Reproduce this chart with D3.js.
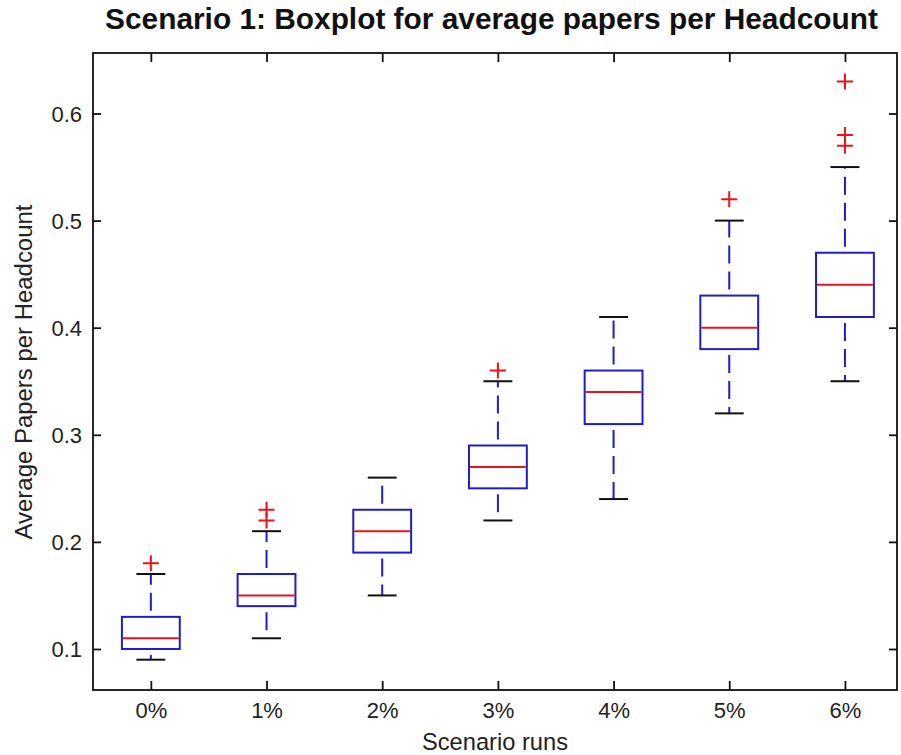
<!DOCTYPE html>
<html><head><meta charset="utf-8">
<script src="https://cdn.jsdelivr.net/npm/d3@7"></script>
<style>body{margin:0;background:#fff}svg{display:block}</style>
</head><body>
<svg id="c" width="901" height="755"></svg>
<script>
const categories = ["0%","1%","2%","3%","4%","5%","6%"];
const q1      = [0.10,0.14,0.19,0.25,0.31,0.38,0.41];
const medians = [0.11,0.15,0.21,0.27,0.34,0.40,0.44];
const q3      = [0.13,0.17,0.23,0.29,0.36,0.43,0.47];
const lowerW  = [0.09,0.11,0.15,0.22,0.24,0.32,0.35];
const upperW  = [0.17,0.21,0.26,0.35,0.41,0.50,0.55];
const outliers = [[0.18],[0.22,0.23],[],[0.36],[],[0.52],[0.57,0.58,0.63]];
const yTicks = [0.1,0.2,0.3,0.4,0.5,0.6];

const FONT = "'Liberation Sans',Arial,sans-serif";
const svg = d3.select("#c");
const L=93, R=897, T=53, B=690;
const x = d3.scaleLinear().domain([0.5,7.45]).range([L,R]);
const y = d3.scaleLinear().domain([0.0617,0.6565]).range([B,T]);
const unit = x(2)-x(1);
const blue="#1e1ec4", red="#e8141c";

const g = svg.append("g");
g.append("rect").attr("x",L).attr("y",T).attr("width",R-L).attr("height",B-T)
 .attr("fill","none").attr("stroke","#111").attr("stroke-width",1.8);

const xAxisB = d3.axisBottom(x).tickValues(d3.range(1,8)).tickFormat(d=>categories[d-1]).tickSizeInner(-9).tickSizeOuter(0).tickPadding(28);
const xAxisT = d3.axisTop(x).tickValues(d3.range(1,8)).tickFormat("").tickSizeInner(-9).tickSizeOuter(0);
const yAxisL = d3.axisLeft(y).tickValues(yTicks).tickFormat(d3.format(".1f")).tickSizeInner(-8).tickSizeOuter(0).tickPadding(11);
const yAxisR = d3.axisRight(y).tickValues(yTicks).tickFormat("").tickSizeInner(-8).tickSizeOuter(0);
function style(sel){
  sel.attr("font-size",null).attr("font-family",null);
  sel.select(".domain").remove();
  sel.selectAll(".tick line").attr("stroke","#111").attr("stroke-width",1.8);
  sel.selectAll(".tick text").attr("fill","#222").attr("font-family",FONT).attr("font-size",22);
}
g.append("g").attr("transform",`translate(0,${B})`).call(xAxisB).call(style)
  .selectAll(".tick text").attr("dy",null);
g.append("g").attr("transform",`translate(0,${T})`).call(xAxisT).call(style);
g.append("g").attr("transform",`translate(${L},0)`).call(yAxisL).call(style)
  .selectAll(".tick text").attr("dy","0.36em");
g.append("g").attr("transform",`translate(${R},0)`).call(yAxisR).call(style);

const idx = d3.range(categories.length);
const bw = unit*0.5, cw = unit*0.25;
const boxes = g.append("g");
idx.forEach(i=>{
  const cx = x(i+1);
  boxes.append("line").attr("x1",cx).attr("x2",cx).attr("y1",y(q3[i])).attr("y2",y(upperW[i]))
    .attr("stroke",blue).attr("stroke-width",2).attr("stroke-dasharray","18,8").attr("stroke-dashoffset",20);
  boxes.append("line").attr("x1",cx).attr("x2",cx).attr("y1",y(q1[i])).attr("y2",y(lowerW[i]))
    .attr("stroke",blue).attr("stroke-width",2).attr("stroke-dasharray","18,8").attr("stroke-dashoffset",20);
  [upperW[i],lowerW[i]].forEach(v=>{
    boxes.append("line").attr("x1",cx-cw/2).attr("x2",cx+cw/2).attr("y1",y(v)).attr("y2",y(v))
      .attr("stroke","#111").attr("stroke-width",2);
  });
  boxes.append("rect").attr("x",cx-bw/2).attr("width",bw).attr("y",y(q3[i])).attr("height",y(q1[i])-y(q3[i]))
    .attr("fill","none").attr("stroke",blue).attr("stroke-width",2);
  boxes.append("line").attr("x1",cx-bw/2+1).attr("x2",cx+bw/2-1).attr("y1",y(medians[i])).attr("y2",y(medians[i]))
    .attr("stroke",red).attr("stroke-width",2);
  outliers[i].forEach(v=>{
    const py=y(v), s=8;
    boxes.append("path").attr("d",`M${cx-s},${py}H${cx+s}M${cx},${py-s}V${py+s}`)
      .attr("stroke",red).attr("stroke-width",2).attr("fill","none");
  });
});

function fit(sel, w){
  const tw = sel.node().getComputedTextLength();
  sel.style("font-size",(100*w/tw)+"px");
}
const title = svg.append("text").attr("x",491.5).attr("y",29).attr("text-anchor","middle")
  .style("font-family",FONT).style("font-weight","bold").style("font-size","100px")
  .attr("fill","#111").text("Scenario 1: Boxplot for average papers per Headcount");
fit(title,773);

const xl = svg.append("text").attr("x",495).attr("y",750).attr("text-anchor","middle")
  .style("font-family",FONT).style("font-size","100px").attr("fill","#222").text("Scenario runs");
fit(xl,146);
const yl = svg.append("text").attr("transform","translate(32,372) rotate(-90)").attr("text-anchor","middle")
  .style("font-family",FONT).style("font-size","100px").attr("fill","#222").text("Average Papers per Headcount");
fit(yl,335);
</script>
</body></html>
